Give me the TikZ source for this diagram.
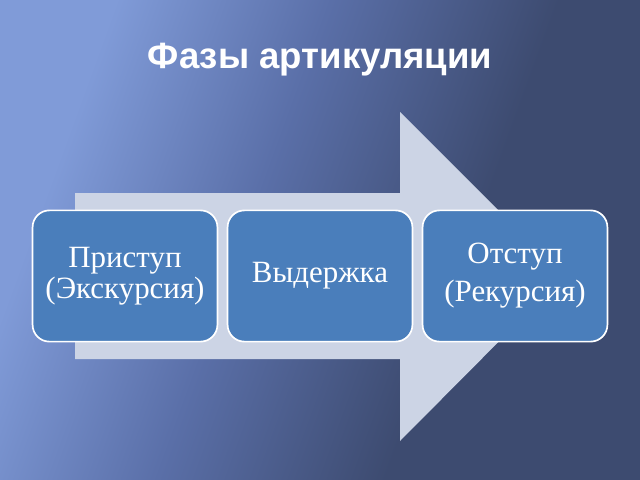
\documentclass[tikz,border=0pt]{standalone}
\usepackage{fontspec}
\setmainfont{Liberation Serif}
\newfontfamily\titlefont{Liberation Sans}
\usetikzlibrary{positioning}

\definecolor{bgdark}{HTML}{3D4B70}
\definecolor{bgmid}{HTML}{5A6FA8}
\definecolor{bglight}{HTML}{809BD8}
\definecolor{arrowfill}{HTML}{CCD4E5}
\definecolor{boxfill}{HTML}{4A7EBB}

\pgfdeclarehorizontalshading{bgshade}{100bp}{color(0bp)=(bglight); color(27bp)=(bglight); color(44bp)=(bgmid); color(62bp)=(bgdark); color(100bp)=(bgdark)}

\begin{document}
\begin{tikzpicture}[x=0.025cm, y=-0.025cm,
    phase/.style={draw=white, line width=1.2pt, fill=boxfill, text=white,
      rounded corners=12pt, minimum width=4.62cm, minimum height=3.28cm,
      align=center, font=\fontsize{22}{23}\selectfont}]
    % background
    \shade [shading=bgshade, shading angle=-20] (0, 0) rectangle (640, 480);
    \useasboundingbox (0, 0) rectangle (640, 480);

    \node [font=\titlefont\bfseries\fontsize{26}{30}\selectfont, text=white] (title) at (320, 60) {Фазы артикуляции};

    % big arrow behind the phases
    \fill [arrowfill] (75, 193) -- (400, 193) -- (400, 112) -- (564, 276)
      -- (400, 441) -- (400, 359) -- (75, 359) -- cycle;

    \node [phase] (p1) at (125, 276) {Приступ\\[-1pt](Экскурсия)};
    \node [phase] (p2) at (320, 276) {Выдержка};
    \node [phase] (p3) at (515, 276) {Отступ\\[4pt](Рекурсия)};
  \end{tikzpicture}
\end{document}
